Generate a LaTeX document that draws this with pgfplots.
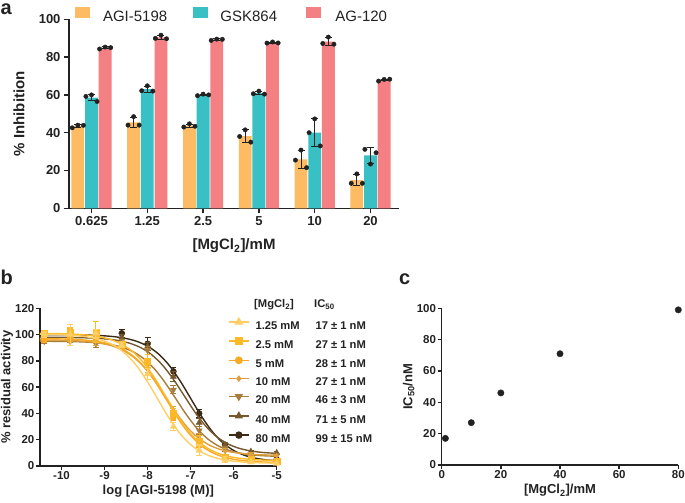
\documentclass[border=0pt]{standalone}
\usepackage{fontspec}
\setmainfont{Liberation Sans}
\usepackage{pgfplots}
\pgfplotsset{compat=1.18}
\definecolor{aor}{RGB}{253,187,99}
\definecolor{ate}{RGB}{56,192,197}
\definecolor{are}{RGB}{244,128,132}
\definecolor{bA}{RGB}{255,207,102}
\definecolor{bB}{RGB}{253,185,40}
\definecolor{bC}{RGB}{248,170,35}
\definecolor{bD}{RGB}{222,160,60}
\definecolor{bE}{RGB}{168,124,58}
\definecolor{bF}{RGB}{118,88,45}
\definecolor{bG}{RGB}{58,42,22}
\definecolor{ink}{RGB}{34,34,34}
\pgfplotsset{
  gp/.style={
    scale only axis, axis lines=left,
    axis line style={-, line width=1.4pt, draw=ink},
    every outer x axis line/.append style={-}, every outer y axis line/.append style={-},
    every inner x axis line/.append style={-}, every inner y axis line/.append style={-},
    tick style={line width=1.4pt, ink}, tick align=outside, major tick length=5pt,
    minor tick num=0, enlargelimits=false,
    /pgf/number format/assume math mode=true,
    label style={font=\bfseries\fontsize{13}{13}\selectfont, text=ink},
    tick label style={font=\bfseries\fontsize{11.5}{11.5}\selectfont, text=ink},
  },
  eb/.style={error bars/.cd, y dir=both, y explicit,
    error bar style={line width=1.1pt, #1},
    error mark options={rotate=90, mark size=3pt, line width=1.1pt, #1}},
  ebk/.style={error bars/.cd, y dir=both, y explicit,
    error bar style={line width=0.9pt, ink},
    error mark options={rotate=90, mark size=3.5pt, line width=0.9pt, ink}},
}
\begin{document}
\begin{tikzpicture}
\path[use as bounding box] (0pt,0pt) rectangle (685pt,503pt);
% ---------------- panel a
\begin{axis}[gp, at={(69pt,294.7pt)}, anchor=south west, width=330pt, height=189pt,
  xmin=-0.403, xmax=5.511, ymin=0, ymax=100,
  xtick={0,1,2,3,4,5}, xticklabels={0.625,1.25,2.5,5,10,20},
  ytick={0,20,40,60,80,100},
  tick label style={font=\bfseries\fontsize{13}{13}\selectfont},
  label style={font=\bfseries\fontsize{15}{15}\selectfont},
  xlabel={[MgCl\textsubscript{2}]/mM}, ylabel={\% Inhibition},
  x label style={at={([yshift=-37.5pt]axis description cs:0.5,0)}, anchor=center},
  y label style={at={([xshift=-50pt]axis description cs:0,0.5)}, anchor=center},
  legend columns=3,
  legend style={at={(0.018,1.023)}, anchor=west, draw=none, fill=none, inner sep=0pt,
    column sep=0pt, nodes={inner sep=0pt, font=\fontsize{15}{15}\selectfont, text=ink}},
  legend cell align=left,
]
\addplot[ybar, bar width=0.23, bar shift=0, fill=aor, draw=none, forget plot, ebk]
  coordinates {(-0.245,43.5)+-(0,0.8) (0.755,45.5)+-(0,2.6) (1.755,43.7)+-(0,0.9) (2.755,38.2)+-(0,3.3) (3.755,25.9)+-(0,4.7) (4.755,14.9)+-(0,2.9)};
\addplot[ybar, bar width=0.23, bar shift=0, fill=ate, draw=none, forget plot, ebk]
  coordinates {(0,58.6)+-(0,1.8) (1,63.0)+-(0,1.6) (2,60.0)+-(0,0.4) (3,61.0)+-(0,0.9) (4,40.1)+-(0,7.2) (5,28.0)+-(0,4.1)};
\addplot[ybar, bar width=0.23, bar shift=0, fill=are, draw=none, forget plot, ebk]
  coordinates {(0.245,84.9)+-(0,0.5) (1.245,90.4)+-(0,1.0) (2.245,89.2)+-(0,0.4) (3.245,87.6)+-(0,0.3) (4.245,88.2)+-(0,2.1) (5.245,67.9)+-(0,0.5)};
\addplot[only marks, mark=*, mark size=2.2pt, ink, forget plot] coordinates {
 (-0.345,42.6) (-0.245,44.0) (-0.145,43.9)
 (0.655,44.0) (0.755,48.5) (0.855,44.0)
 (1.655,43.0) (1.755,44.7) (1.855,43.4)
 (2.655,38.0) (2.755,41.5) (2.855,35.0)
 (3.655,25.5) (3.755,30.8) (3.855,21.5)
 (4.655,13.2) (4.755,18.2) (4.855,13.2)
 (-0.1,59.2) (0,60.0) (0.1,56.5)
 (0.9,62.2) (1.0,64.8) (1.1,62.0)
 (1.9,59.6) (2.0,60.4) (2.1,60.0)
 (2.9,60.6) (3.0,62.0) (3.1,60.4)
 (3.9,40.0) (4.0,47.3) (4.1,33.0)
 (4.9,31.2) (5.0,23.4) (5.1,29.4)
 (0.145,84.3) (0.245,85.3) (0.345,85.0)
 (1.145,89.9) (1.245,91.6) (1.345,89.7)
 (2.145,88.8) (2.245,89.5) (2.345,89.4)
 (3.145,87.4) (3.245,88.0) (3.345,87.5)
 (4.145,87.2) (4.245,90.6) (4.345,86.8)
 (5.145,67.3) (5.245,68.2) (5.345,68.3)};
\addlegendimage{legend image code/.code={\fill[aor] (0pt,0pt) rectangle (14pt,10.5pt);}}
\addlegendentry{\hspace{13.5pt}\makebox[89.5pt][l]{AGI-5198}}
\addlegendimage{legend image code/.code={\fill[ate] (0pt,0pt) rectangle (14pt,10.5pt);}}
\addlegendentry{\hspace{13.5pt}\makebox[86pt][l]{GSK864}}
\addlegendimage{legend image code/.code={\fill[are] (0pt,0pt) rectangle (14pt,10.5pt);}}
\addlegendentry{\hspace{14.5pt}AG-120}
\end{axis}
% ---------------- panel b
\begin{axis}[gp, at={(40pt,37pt)}, anchor=south west, width=236.7pt, height=157.7pt,
  xmin=-10.5, xmax=-5, ymin=0, ymax=120,
  xtick={-10,-9,-8,-7,-6,-5}, ytick={0,20,40,60,80,100,120},
  major tick length=4pt, tick label style={inner sep=1.5pt},
  clip mode=individual,
  xlabel={log [AGI-5198 (M)]}, ylabel={\% residual activity},
  x label style={at={([yshift=-25pt]axis description cs:0.5,0)}, anchor=center},
  y label style={at={([xshift=-33pt]axis description cs:0,0.5)}, anchor=center},
  legend style={at={(0.794,0.9385)}, anchor=north west, draw=none, fill=none, inner sep=0pt,
    row sep=7.4pt, column sep=6pt, nodes={inner sep=0pt, font=\bfseries\fontsize{11.2}{11.2}\selectfont, text=ink}},
  legend cell align=left,
  legend image code/.code={\draw[mark repeat=2,mark phase=2,#1] plot coordinates {(0pt,4pt) (10pt,4pt) (20pt,4pt)};},
]
% 80 mM
\addplot[bG, line width=1.4pt, smooth, forget plot] coordinates {
(-10.5,99.97) (-10.25,99.95) (-10,99.90) (-9.75,99.83) (-9.5,99.69) (-9.25,99.46) (-9,99.04) (-8.75,98.31) (-8.5,97.03) (-8.25,94.84) (-8,91.18) (-7.75,85.35) (-7.5,76.70) (-7.25,65.09) (-7,51.5) (-6.75,37.91) (-6.5,26.30) (-6.25,17.65) (-6,11.82) (-5.75,8.16) (-5.5,5.97) (-5.25,4.69) (-5,3.96)};
\addplot[bG, only marks, mark=*, mark size=3pt, forget plot, eb=bG] coordinates {
(-10.4,100)+-(0,1) (-9.8,100)+-(0,2) (-9.2,100)+-(0,2) (-8.6,101)+-(0,3) (-8.0,93)+-(0,5) (-7.4,72)+-(0,3) (-6.8,40)+-(0,3) (-6.2,16)+-(0,2) (-5.6,8)+-(0,1) (-5.0,5)+-(0,1)};
% 40 mM
\addplot[bF, line width=1.4pt, smooth, forget plot] coordinates {
(-10.65,97.97) (-10.40,97.95) (-10.15,97.91) (-9.90,97.84) (-9.65,97.72) (-9.40,97.50) (-9.15,97.12) (-8.90,96.45) (-8.65,95.27) (-8.40,93.26) (-8.15,89.91) (-7.90,84.56) (-7.65,76.62) (-7.40,65.97) (-7.15,53.5) (-6.90,41.03) (-6.65,30.38) (-6.40,22.44) (-6.15,17.09) (-5.90,13.74) (-5.65,11.73) (-5.40,10.55) (-5.15,9.88) (-5,9.63)};
\addplot[bF, only marks, mark=triangle*, mark size=3.5pt, forget plot, eb=bF] coordinates {
(-10.4,98)+-(0,2) (-9.8,99)+-(0,2) (-9.2,99)+-(0,2) (-8.6,98)+-(0,2) (-8.0,91)+-(0,3) (-7.4,68)+-(0,4) (-6.8,33)+-(0,3) (-6.2,16)+-(0,2) (-5.6,11)+-(0,1) (-5.0,10)+-(0,1)};
% 20 mM
\addplot[bE, line width=1.4pt, smooth, forget plot] coordinates {
(-10.59,94.95) (-10.34,94.91) (-10.09,94.84) (-9.84,94.72) (-9.59,94.51) (-9.34,94.13) (-9.09,93.46) (-8.84,92.30) (-8.59,90.31) (-8.34,87.00) (-8.09,81.71) (-7.84,73.86) (-7.59,63.33) (-7.34,51.00) (-7.09,38.67) (-6.84,28.14) (-6.59,20.29) (-6.34,15.00) (-6.09,11.69) (-5.84,9.70) (-5.59,8.54) (-5.34,7.87) (-5.09,7.49) (-5,7.40)};
\addplot[bE, only marks, mark=triangle*, mark options={rotate=180}, mark size=3.5pt, forget plot, eb=bE] coordinates {
(-10.4,95)+-(0,2) (-9.8,96)+-(0,2) (-9.2,93)+-(0,3) (-8.6,94)+-(0,2) (-8.0,88)+-(0,3) (-7.4,58)+-(0,3) (-6.8,27)+-(0,3) (-6.2,13)+-(0,2) (-5.6,9)+-(0,1) (-5.0,8)+-(0,1)};
% 10 mM
\addplot[bD, line width=1.4pt, smooth, forget plot] coordinates {
(-10.57,95.91) (-10.32,95.84) (-10.07,95.72) (-9.82,95.51) (-9.57,95.13) (-9.32,94.46) (-9.07,93.30) (-8.82,91.31) (-8.57,88.00) (-8.32,82.71) (-8.07,74.86) (-7.82,64.33) (-7.57,52.0) (-7.32,39.67) (-7.07,29.14) (-6.82,21.29) (-6.57,16.00) (-6.32,12.69) (-6.07,10.70) (-5.82,9.54) (-5.57,8.87) (-5.32,8.49) (-5.07,8.28) (-5,8.26)};
\addplot[bD, only marks, mark=diamond*, mark size=2.3pt, forget plot, eb=bD] coordinates {
(-10.4,96)+-(0,2) (-9.8,94)+-(0,2) (-9.2,95)+-(0,3) (-8.6,92)+-(0,2) (-8.0,75)+-(0,4) (-7.4,42)+-(0,3) (-6.8,22)+-(0,3) (-6.2,11)+-(0,2) (-5.6,9)+-(0,1) (-5.0,8)+-(0,1)};
% 5 mM
\addplot[bC, line width=1.4pt, smooth, forget plot] coordinates {
(-10.55,96.91) (-10.30,96.83) (-10.05,96.70) (-9.80,96.47) (-9.55,96.06) (-9.30,95.35) (-9.05,94.10) (-8.80,91.97) (-8.55,88.41) (-8.30,82.73) (-8.05,74.30) (-7.80,62.99) (-7.55,49.75) (-7.30,36.51) (-7.05,25.20) (-6.80,16.77) (-6.55,11.09) (-6.30,7.53) (-6.05,5.40) (-5.80,4.15) (-5.55,3.44) (-5.30,3.03) (-5.05,2.80) (-5,2.79)};
\addplot[bC, only marks, mark=*, mark size=3.2pt, forget plot, eb=bC] coordinates {
(-10.4,96)+-(0,2) (-9.8,98)+-(0,3) (-9.2,97)+-(0,3) (-8.6,91)+-(0,2) (-8.0,78)+-(0,4) (-7.4,38)+-(0,3) (-6.8,17)+-(0,3) (-6.2,6)+-(0,2) (-5.6,4)+-(0,1) (-5.0,3)+-(0,1)};
% 2.5 mM
\addplot[bB, line width=1.4pt, smooth, forget plot] coordinates {
(-10.57,100.90) (-10.32,100.83) (-10.07,100.69) (-9.82,100.46) (-9.57,100.04) (-9.32,99.31) (-9.07,98.03) (-8.82,95.84) (-8.57,92.18) (-8.32,86.35) (-8.07,77.70) (-7.82,66.09) (-7.57,52.5) (-7.32,38.91) (-7.07,27.30) (-6.82,18.65) (-6.57,12.82) (-6.32,9.16) (-6.07,6.97) (-5.82,5.69) (-5.57,4.96) (-5.32,4.54) (-5.07,4.31) (-5,4.28)};
\addplot[bB, only marks, mark=square*, mark size=3pt, forget plot, eb=bB] coordinates {
(-10.4,101)+-(0,2) (-9.8,102)+-(0,3) (-9.2,102)+-(0,8) (-8.6,93)+-(0,2) (-8.0,80)+-(0,5) (-7.4,40)+-(0,4) (-6.8,19)+-(0,4) (-6.2,7)+-(0,2) (-5.6,5)+-(0,1) (-5.0,4)+-(0,1)};
% 1.25 mM
\addplot[bA, line width=1.4pt, smooth, forget plot] coordinates {
(-10.52,100.32) (-10.27,100.19) (-10.02,99.95) (-9.77,99.52) (-9.52,98.78) (-9.27,97.48) (-9.02,95.26) (-8.77,91.55) (-8.52,85.63) (-8.27,76.84) (-8.02,65.05) (-7.77,51.25) (-7.52,37.45) (-7.27,25.66) (-7.02,16.87) (-6.77,10.95) (-6.52,7.24) (-6.27,5.02) (-6.02,3.72) (-5.77,2.98) (-5.52,2.55) (-5.27,2.31) (-5.02,2.18) (-5,2.17)};
\addplot[bA, only marks, mark=triangle*, mark size=3.8pt, forget plot, eb=bA] coordinates {
(-10.4,100)+-(0,2) (-9.8,100)+-(0,8) (-9.2,101)+-(0,3) (-8.6,92)+-(0,2) (-8.0,70)+-(0,4) (-7.4,30)+-(0,3) (-6.8,12)+-(0,4) (-6.2,5)+-(0,2) (-5.6,3)+-(0,1) (-5.0,2)+-(0,1)};
% legend
\addlegendimage{bA, line width=1.4pt, mark=triangle*, mark size=3.8pt}
\addlegendentry{\makebox[60pt][l]{1.25 mM}17 ± 1 nM}
\addlegendimage{bB, line width=1.4pt, mark=square*, mark size=3pt}
\addlegendentry{\makebox[60pt][l]{2.5 mM}27 ± 1 nM}
\addlegendimage{bC, line width=1.4pt, mark=*, mark size=3.2pt}
\addlegendentry{\makebox[60pt][l]{5 mM}28 ± 1 nM}
\addlegendimage{bD, line width=1.4pt, mark=diamond*, mark size=2.3pt}
\addlegendentry{\makebox[60pt][l]{10 mM}27 ± 1 nM}
\addlegendimage{bE, line width=1.4pt, mark=triangle*, mark options={rotate=180}, mark size=3.5pt}
\addlegendentry{\makebox[60pt][l]{20 mM}46 ± 3 nM}
\addlegendimage{bF, line width=1.4pt, mark=triangle*, mark size=3.5pt}
\addlegendentry{\makebox[60pt][l]{40 mM}71 ± 5 nM}
\addlegendimage{bG, line width=1.4pt, mark=*, mark size=3pt}
\addlegendentry{\makebox[60pt][l]{80 mM}99 ± 15 nM}
\end{axis}
% ---------------- panel c
\begin{axis}[gp, at={(441.7pt,38pt)}, anchor=south west, width=236.6pt, height=156.7pt,
  xmin=0, xmax=80, ymin=0, ymax=100, clip=false,
  xtick={0,20,40,60,80}, ytick={0,20,40,60,80,100},
  major tick length=4pt, tick label style={inner sep=1.5pt},
  xlabel={[MgCl\textsubscript{2}]/mM}, ylabel={IC\textsubscript{50}/nM},
  x label style={at={([yshift=-25.5pt]axis description cs:0.5,0)}, anchor=center},
  y label style={at={([xshift=-33pt]axis description cs:0,0.5)}, anchor=center},
]
\addplot[only marks, mark=*, mark size=3.2pt, ink] coordinates {(1.25,17) (10,27) (20,46) (40,71) (80,99)};
\end{axis}
% headers and panel letters
\node[anchor=base west, inner sep=0pt, text=ink, font=\bfseries\fontsize{11.2}{11.2}\selectfont] at (254pt,195.5pt) {[MgCl\textsubscript{2}]};
\node[anchor=base west, inner sep=0pt, text=ink, font=\bfseries\fontsize{11.2}{11.2}\selectfont] at (314pt,195.5pt) {IC\textsubscript{50}};
\node[anchor=base west, inner sep=0pt, text=ink, font=\bfseries\fontsize{20}{20}\selectfont] at (0.5pt,488pt) {a};
\node[anchor=base west, inner sep=0pt, text=ink, font=\bfseries\fontsize{20}{20}\selectfont] at (0.5pt,218pt) {b};
\node[anchor=base west, inner sep=0pt, text=ink, font=\bfseries\fontsize{20}{20}\selectfont] at (399pt,218pt) {c};
\end{tikzpicture}
\end{document}
